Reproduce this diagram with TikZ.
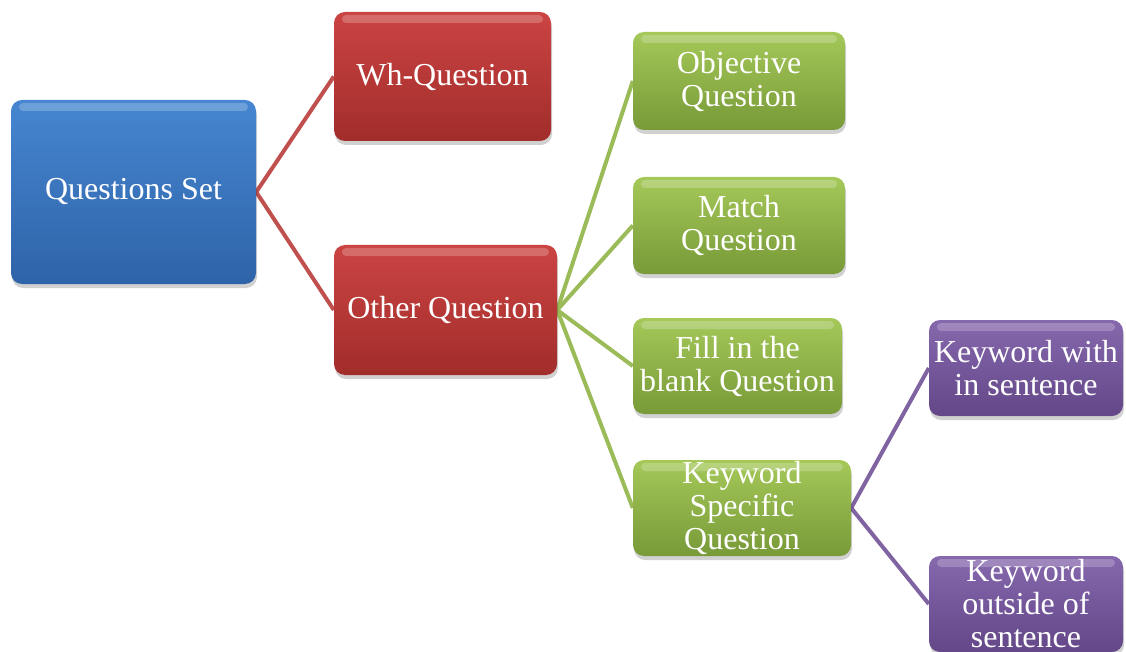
\documentclass[tikz,border=0pt]{standalone}
\usepackage{fontspec}
\setmainfont{Liberation Serif}
\usetikzlibrary{backgrounds}
\definecolor{blueT}{HTML}{4686D1}
\definecolor{blueB}{HTML}{2E63A8}
\definecolor{redT}{HTML}{CB4442}
\definecolor{redB}{HTML}{A12D2B}
\definecolor{greenT}{HTML}{A5C859}
\definecolor{greenB}{HTML}{789A38}
\definecolor{purpT}{HTML}{8668AD}
\definecolor{purpB}{HTML}{634788}
\definecolor{redL}{HTML}{C0504D}
\definecolor{greenL}{HTML}{9BBB59}
\definecolor{purpL}{HTML}{8064A2}
\tikzset{
  gbox/.style={rounded corners=11pt, text=white, align=center,
    font=\fontsize{32}{33}\selectfont, inner sep=0pt,
    preaction={fill=black, opacity=.18, transform canvas={xshift=1pt,yshift=-4pt}},
    path picture={
      \fill[white,opacity=.22,rounded corners=4pt]
        ([xshift=8pt,yshift=-3pt]path picture bounding box.north west) rectangle
        ([xshift=-8pt,yshift=-11pt]path picture bounding box.north east);
      \fill[white,opacity=.35]
        ([xshift=3pt,yshift=-4pt]path picture bounding box.south west) circle (4pt);
    }},
  bluebox/.style={gbox, top color=blueT, bottom color=blueB},
  redbox/.style={gbox, top color=redT, bottom color=redB},
  greenbox/.style={gbox, top color=greenT, bottom color=greenB},
  purpbox/.style={gbox, top color=purpT, bottom color=purpB},
  conn/.style={line width=4pt},
}
\begin{document}
\begin{tikzpicture}[x=1pt,y=-1pt]
\useasboundingbox (0,0) rectangle (1126,652);
\node[bluebox, minimum width=245pt, minimum height=184pt] (qs) at (133.5,192) {Questions Set};
\node[redbox, minimum width=217pt, minimum height=129pt] (wh) at (442.5,76.5) {Wh-Question};
\node[redbox, minimum width=223pt, minimum height=130pt] (oq) at (445.5,310) {Other Question};
\node[greenbox, minimum width=212pt, minimum height=98pt] (obj) at (739,81) {Objective\\Question};
\node[greenbox, minimum width=212pt, minimum height=97pt] (mq) at (739,225.5) {Match\\Question};
\node[greenbox, minimum width=209pt, minimum height=96pt] (fb) at (737.5,366) {Fill in the\\blank Question};
\node[greenbox, minimum width=218pt, minimum height=96pt] (ks) at (742,508) {Keyword\\Specific\\Question};
\node[purpbox, minimum width=194pt, minimum height=96pt] (kw) at (1026,368) {Keyword with\\in sentence};
\node[purpbox, minimum width=194pt, minimum height=96pt] (ko) at (1026,604) {Keyword\\outside of\\sentence};
\begin{scope}[on background layer]
\draw[conn, redL] (wh.west) -- (qs.east) -- (oq.west);
\draw[conn, greenL] (oq.east) -- (obj.west);
\draw[conn, greenL] (oq.east) -- (mq.west);
\draw[conn, greenL] (oq.east) -- (fb.west);
\draw[conn, greenL] (oq.east) -- (ks.west);
\draw[conn, purpL] (kw.west) -- (ks.east) -- (ko.west);
\end{scope}
\end{tikzpicture}
\end{document}
